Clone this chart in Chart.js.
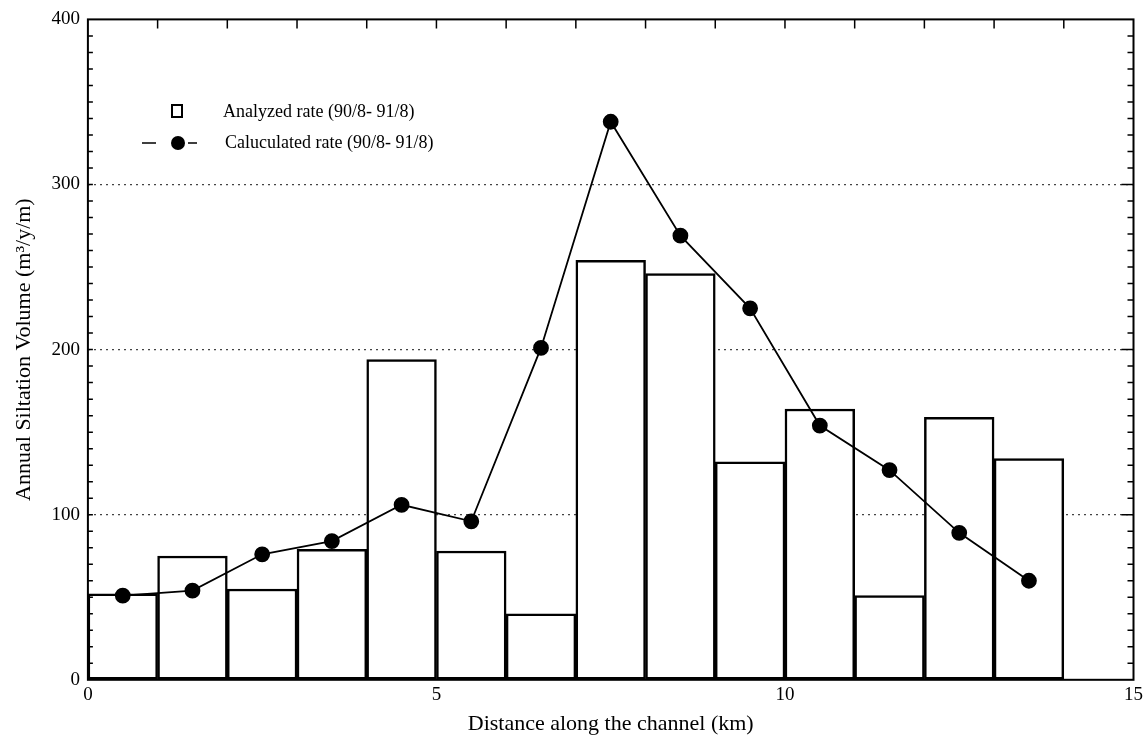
<!DOCTYPE html>
<html>
<head>
<meta charset="utf-8">
<script src="https://cdn.jsdelivr.net/npm/chart.js@4"></script>
<style>
    body { margin: 0; background: #fff; }
    #wrap { width: 1147px; height: 741px; }
</style>
</head>
<body>
<div id="wrap"><canvas id="silt-chart"></canvas></div>
<script>
'use strict';

// centre of each 1 km reach along the channel
const g_Distance = [0.5, 1.5, 2.5, 3.5, 4.5, 5.5, 6.5, 7.5, 8.5, 9.5, 10.5, 11.5, 12.5, 13.5];
// m3/y/m
const g_Analyzed = [52, 75, 55, 79, 194, 78, 40, 254, 246, 132, 164, 51, 159, 134];
const g_Calculated = [51, 54, 76, 84, 106, 96, 201, 338, 269, 225, 154, 127, 89, 60];
const g_XTicks = [0, 5, 10, 15];
const g_YTicks = [0, 100, 200, 300, 400];
const g_Names = ['Analyzed rate (90/8- 91/8)', 'Caluculated rate (90/8- 91/8)'];

const FONT = '"Liberation Serif", "DejaVu Serif", serif';

function toPoints(xs, ys) {
    return xs.map((x, i) => ({ x: x, y: ys[i] }));
}

// box round the plot with small inward ticks, like the old plotter output
const framePlugin = {
    id: 'frame',
    afterDatasetsDraw(chart) {
        const ctx = chart.ctx;
        const a = chart.chartArea;
        const xs = chart.scales.x, ys = chart.scales.y;
        ctx.save();
        ctx.strokeStyle = '#000';
        ctx.lineWidth = 2;
        ctx.strokeRect(a.left, a.top, a.right - a.left, a.bottom - a.top);
        ctx.lineWidth = 1.5;
        ctx.beginPath();
        for (let v = 10; v < 400; v += 10) {
            const y = ys.getPixelForValue(v);
            const len = v % 100 === 0 ? 12 : 6;
            ctx.moveTo(a.left, y); ctx.lineTo(a.left + 5, y);
            ctx.moveTo(a.right, y); ctx.lineTo(a.right - len, y);
        }
        for (let k = 1; k < 15; k++) {
            const x = xs.getPixelForValue(k);
            ctx.moveTo(x, a.top); ctx.lineTo(x, a.top + 9);
        }
        ctx.stroke();
        ctx.restore();
    }
};

// legend sits inside the plot, top left
const legendPlugin = {
    id: 'innerLegend',
    afterDraw(chart) {
        const ctx = chart.ctx;
        const names = chart.data.datasets.map(d => d.label);
        ctx.save();
        ctx.fillStyle = '#000';
        ctx.strokeStyle = '#000';
        ctx.font = '18px ' + FONT;
        ctx.textBaseline = 'middle';
        // square for the bars
        ctx.lineWidth = 2;
        ctx.strokeRect(172, 105, 10, 12);
        ctx.fillText(names[1], 223, 112);
        // line with dot
        ctx.lineWidth = 1.5;
        ctx.beginPath();
        ctx.moveTo(142, 143); ctx.lineTo(156, 143);
        ctx.moveTo(188, 143); ctx.lineTo(197, 143);
        ctx.stroke();
        ctx.beginPath();
        ctx.arc(178, 143, 7, 0, Math.PI * 2);
        ctx.fill();
        ctx.fillText(names[0], 225, 143);
        ctx.restore();
    }
};

const ctx = document.getElementById('silt-chart').getContext('2d');
const chart = new Chart(ctx, {
    type: 'bar',
    data: {
        datasets: [{
            type: 'line',
            label: g_Names[1],
            data: toPoints(g_Distance, g_Calculated),
            borderColor: '#000',
            borderWidth: 1.8,
            backgroundColor: '#000',
            pointRadius: 7,
            pointBackgroundColor: '#000',
            tension: 0,
            order: 0
        }, {
            type: 'bar',
            label: g_Names[0],
            data: toPoints(g_Distance, g_Analyzed),
            backgroundColor: '#fff',
            borderColor: '#000',
            borderWidth: 2.5,
            borderSkipped: false,
            barPercentage: 1,
            categoryPercentage: 1,
            order: 1
        }]
    },
    options: {
        responsive: true,
        maintainAspectRatio: false,
        animation: false,
        layout: { padding: { top: 8, right: 10, bottom: 4, left: 11 } },
        plugins: {
            legend: { display: false },
            tooltip: { enabled: false }
        },
        scales: {
            x: {
                type: 'linear',
                min: 0,
                max: 15,
                offset: false,
                afterBuildTicks: s => { s.ticks = g_XTicks.map(v => ({ value: v })); },
                ticks: { color: '#000', font: { family: FONT, size: 19 }, padding: 4 },
                grid: { display: false, drawTicks: false },
                border: { display: false },
                title: {
                    display: true,
                    text: 'Distance along the channel (km)',
                    color: '#000',
                    font: { family: FONT, size: 22 },
                    padding: { top: 0, bottom: 0 }
                }
            },
            y: {
                min: 0,
                max: 400,
                afterBuildTicks: s => { s.ticks = g_YTicks.map(v => ({ value: v })); },
                ticks: { color: '#000', font: { family: FONT, size: 19 }, padding: 8 },
                grid: {
                    drawTicks: false,
                    lineWidth: 1.2,
                    color: c => (c.tick && c.tick.value > 0 && c.tick.value < 400) ? '#444' : 'rgba(0,0,0,0)'
                },
                border: { display: false, dash: [2, 4] },
                title: {
                    display: true,
                    text: 'Annual Siltation Volume (m\u00b3/y/m)',
                    color: '#000',
                    font: { family: FONT, size: 22 },
                    padding: { top: 0, bottom: 6 }
                }
            }
        }
    },
    plugins: [framePlugin, legendPlugin]
});
</script>
</body>
</html>
